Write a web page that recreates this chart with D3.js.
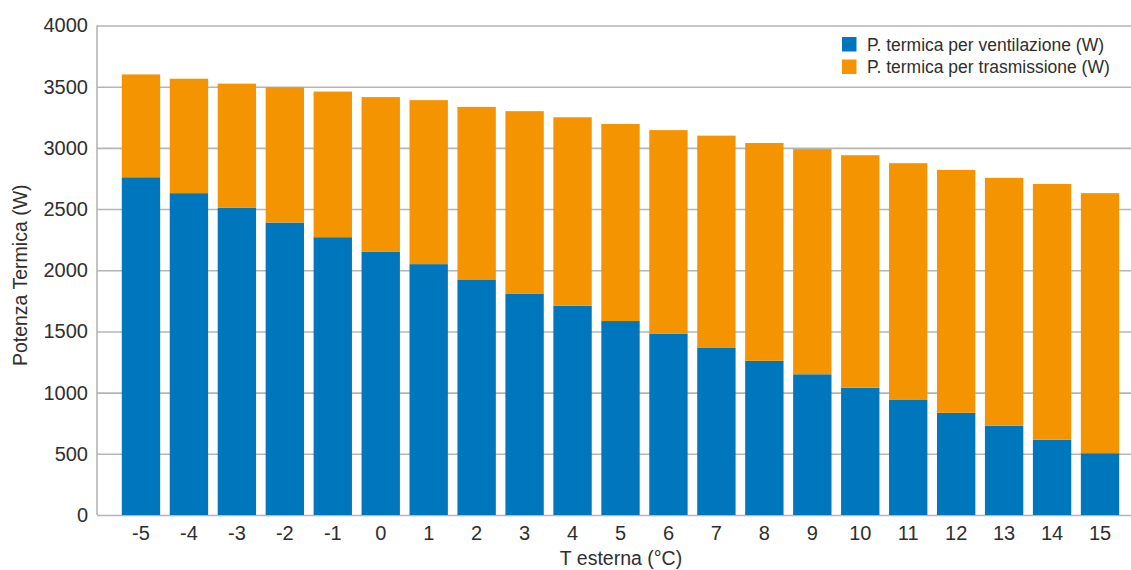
<!DOCTYPE html>
<html>
<head>
<meta charset="utf-8">
<script src="https://cdn.jsdelivr.net/npm/d3@7"></script>
<style>
  html, body { margin: 0; padding: 0; background: #fff; }
  svg { display: block; font-family: "Liberation Sans", "DejaVu Sans", sans-serif; }
</style>
</head>
<body>
<svg id="chart" width="1131" height="570"></svg>
<script>
// Outdoor temperature categories (°C)
const temperatures = ["-5", "-4", "-3", "-2", "-1", "0", "1", "2", "3", "4", "5",
                      "6", "7", "8", "9", "10", "11", "12", "13", "14", "15"];
// Heat loss through ventilation (W)
const ventilazione = [2760, 2630, 2510, 2390, 2270, 2150, 2050, 1925, 1810, 1710, 1585,
                      1480, 1365, 1260, 1150, 1040, 940, 835, 730, 615, 505];
// Total heat demand (W); transmission share = total - ventilation
const totale = [3600, 3565, 3525, 3495, 3460, 3415, 3390, 3335, 3300, 3250, 3195,
                3145, 3100, 3040, 2990, 2940, 2875, 2820, 2755, 2705, 2630];
const trasmissione = totale.map((t, i) => t - ventilazione[i]);
const yTicks = [0, 500, 1000, 1500, 2000, 2500, 3000, 3500, 4000];
const seriesNames = ["P. termica per ventilazione (W)", "P. termica per trasmissione (W)"];
const seriesColors = ["#0077bd", "#f39400"];

const svg = d3.select("#chart");
const plot = { left: 97, right: 1131, top: 25.5, bottom: 515 };
const textColor = "#2e2e2e";
const gridColor = "#b5b5b5";

const x = d3.scaleBand()
  .domain(temperatures)
  .range([117, 1124])
  .paddingInner(0.2)
  .paddingOuter(0.1);

const y = d3.scaleLinear()
  .domain([0, 4000])
  .range([plot.bottom, plot.top]);

// Horizontal gridlines with value labels
const yAxis = d3.axisLeft(y)
  .tickValues(yTicks)
  .tickSize(-(plot.right - plot.left))
  .tickFormat(d3.format("d"));

const gY = svg.append("g")
  .attr("transform", `translate(${plot.left},0)`)
  .call(yAxis);
gY.select(".domain").remove();
gY.selectAll(".tick line")
  .attr("stroke", gridColor)
  .attr("stroke-width", 1.6);
gY.selectAll(".tick text")
  .attr("fill", textColor)
  .attr("font-size", 20)
  .attr("x", -9);

// Left vertical axis line
svg.append("line")
  .attr("x1", plot.left).attr("x2", plot.left)
  .attr("y1", plot.top).attr("y2", plot.bottom)
  .attr("stroke", gridColor).attr("stroke-width", 1.6);

// Stacked bars
const stackData = temperatures.map((t, i) => ({
  t, vent: ventilazione[i], tras: trasmissione[i]
}));
const stack = d3.stack().keys(["vent", "tras"])(stackData);

svg.append("g")
  .selectAll("g")
  .data(stack)
  .join("g")
  .attr("fill", (d, i) => seriesColors[i])
  .selectAll("rect")
  .data(d => d)
  .join("rect")
  .attr("x", d => x(d.data.t))
  .attr("width", x.bandwidth())
  .attr("y", d => y(d[1]))
  .attr("height", d => y(d[0]) - y(d[1]));

// Category axis labels
const xAxis = d3.axisBottom(x).tickSize(0).tickPadding(11);
const gX = svg.append("g")
  .attr("transform", `translate(0,${plot.bottom})`)
  .call(xAxis);
gX.select(".domain").remove();
gX.selectAll(".tick text")
  .attr("fill", textColor)
  .attr("font-size", 20);

// Axis titles
svg.append("text")
  .attr("x", 621)
  .attr("y", 565)
  .attr("text-anchor", "middle")
  .attr("fill", textColor)
  .attr("font-size", 19.5)
  .text("T esterna (°C)");

svg.append("text")
  .attr("transform", `translate(27,${(plot.top + plot.bottom) / 2 + 5}) rotate(-90)`)
  .attr("text-anchor", "middle")
  .attr("fill", textColor)
  .attr("font-size", 19.5)
  .text("Potenza Termica (W)");

// Legend
const legend = svg.append("g").attr("transform", "translate(842,37)");
seriesNames.forEach((name, i) => {
  const row = legend.append("g").attr("transform", `translate(0,${i * 22.5})`);
  row.append("rect")
    .attr("width", 14.5).attr("height", 14.5)
    .attr("fill", seriesColors[i]);
  row.append("text")
    .attr("x", 25)
    .attr("y", 13.5)
    .attr("fill", textColor)
    .attr("font-size", 17.5)
    .text(name);
});
</script>
</body>
</html>
